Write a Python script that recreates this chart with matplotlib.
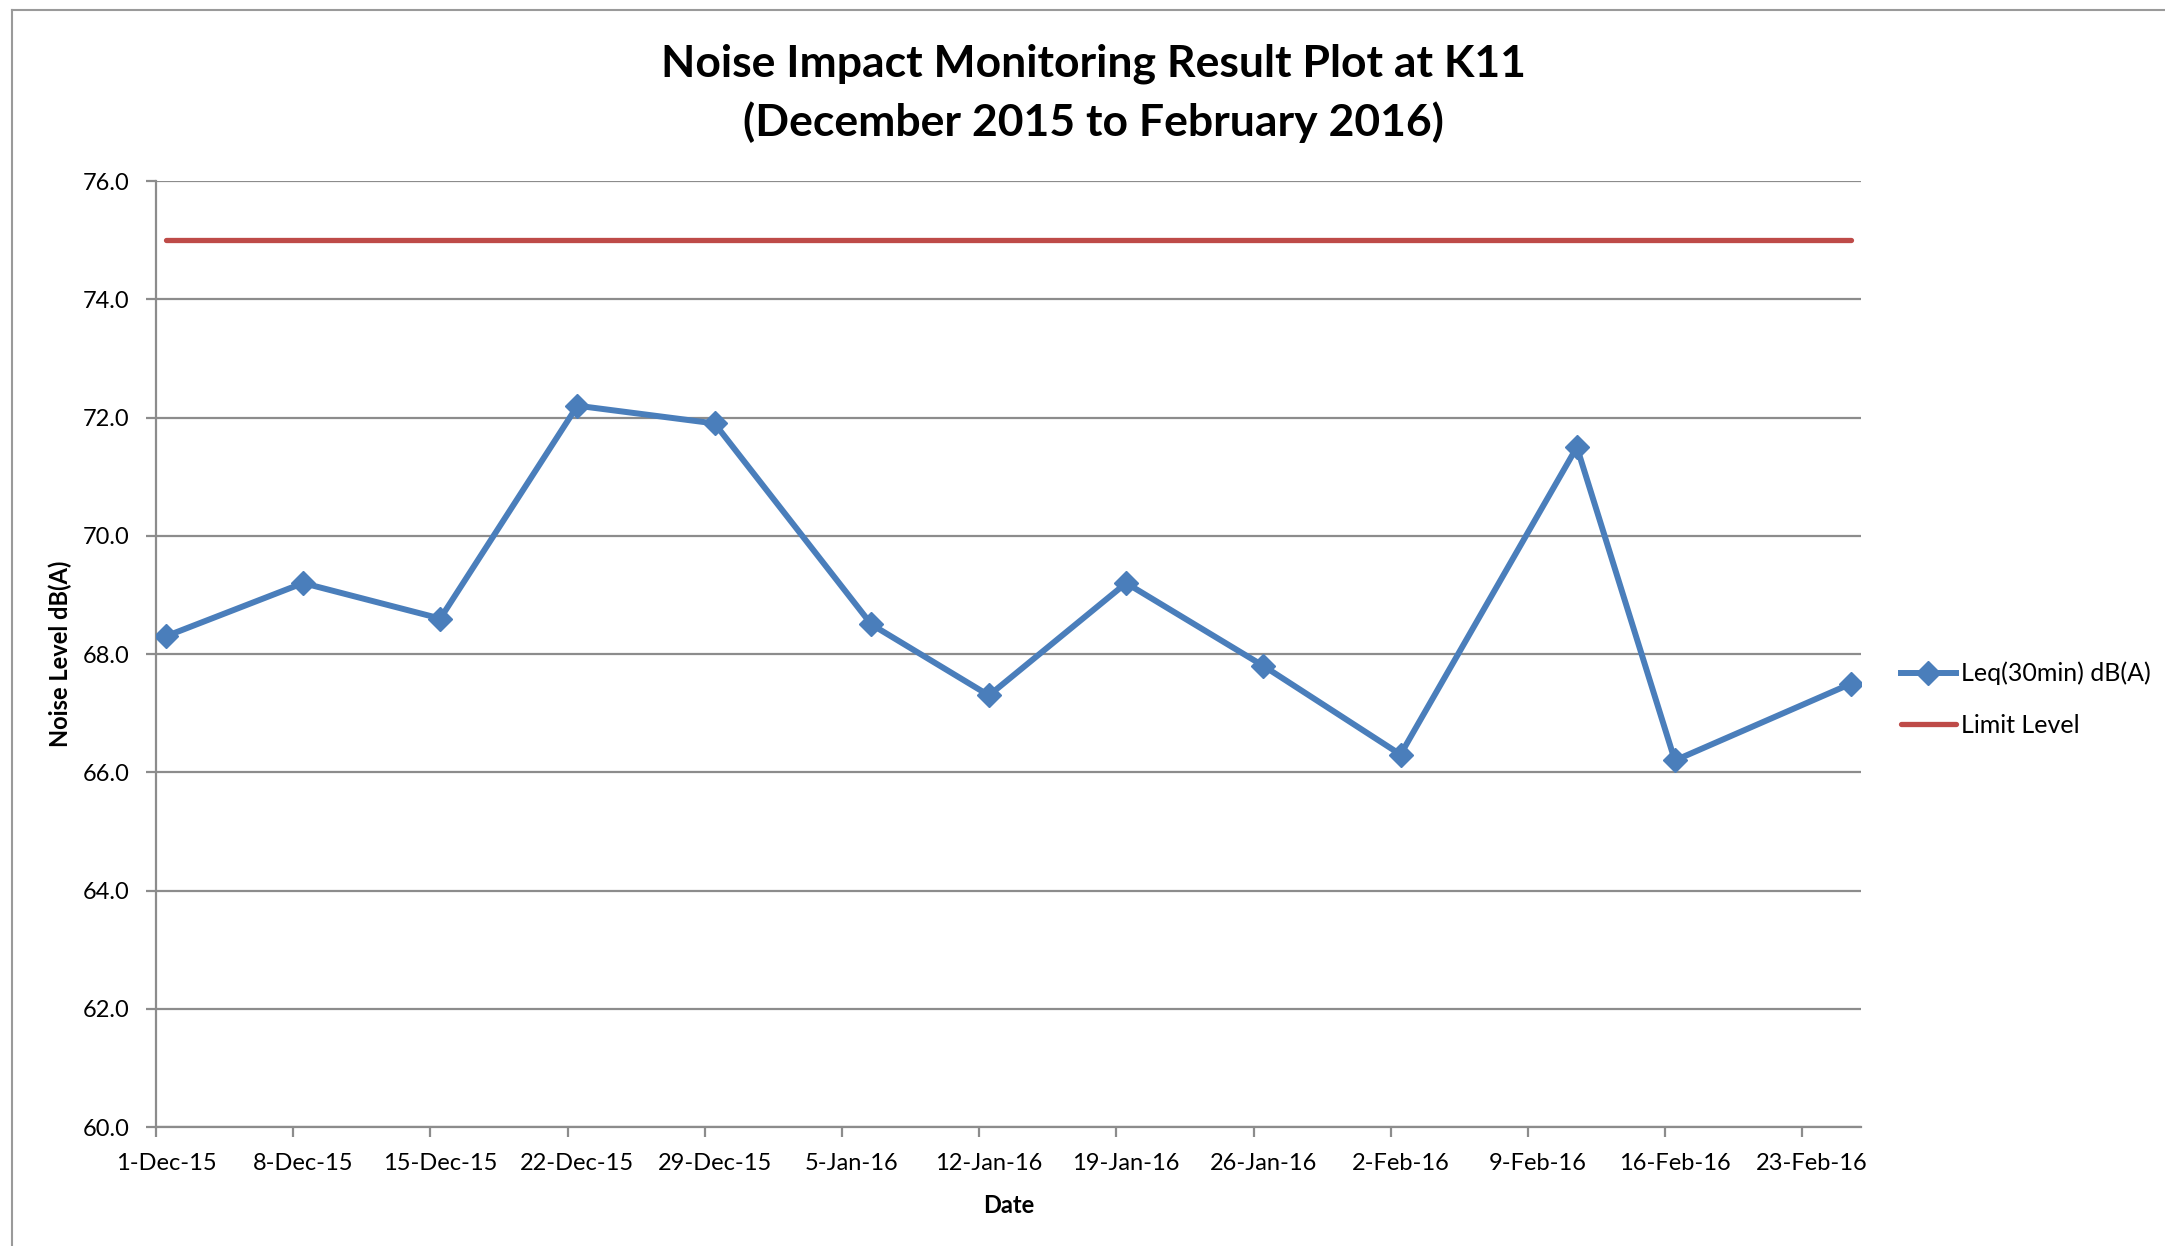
import pandas as pd
import matplotlib
matplotlib.use('Agg')
import matplotlib.pyplot as plt
import matplotlib.dates as mdates
from matplotlib.lines import Line2D

plt.rcParams['font.family'] = ['Lato', 'DejaVu Sans']

# Monitoring results at K11
dates = ['2015-12-01', '2015-12-08', '2015-12-15', '2015-12-22', '2015-12-29',
         '2016-01-06', '2016-01-12', '2016-01-19', '2016-01-26', '2016-02-02',
         '2016-02-11', '2016-02-16', '2016-02-25']
leq = [68.3, 69.2, 68.6, 72.2, 71.9, 68.5, 67.3, 69.2, 67.8, 66.3, 71.5, 66.2, 67.5]
limit = [75.0] * len(dates)

tick_dates = pd.date_range('2015-12-01', '2016-02-23', freq='7D')
y_ticks = [60.0, 62.0, 64.0, 66.0, 68.0, 70.0, 72.0, 74.0, 76.0]

blue = '#4A7EBB'
red = '#BE4B48'
grid_grey = '#8C8C8C'

# each reading (and each date label) sits in the middle of its day
half_day = pd.Timedelta(hours=12)
x = pd.to_datetime(dates) + half_day

fig = plt.figure(figsize=(21.65, 12.46), dpi=100)
ax = fig.add_axes([0.0721, 0.0955, 0.7875, 0.7592])

ax.plot(x, leq, color=blue, lw=4.3, marker='D', ms=12.5, label='Leq(30min) dB(A)',
        solid_joinstyle='round', zorder=3)
ax.plot(x, limit, color=red, lw=3.8, solid_capstyle='round', label='Limit Level', zorder=3)

ax.set_ylim(60, 76)
ax.set_yticks(y_ticks)
ax.set_yticklabels([f'{v:.1f}' for v in y_ticks])
ax.set_xlim(pd.Timestamp('2015-12-01'), pd.Timestamp('2016-02-26'))

# tick marks at midnight, labels centred on the day
ax.set_xticks(tick_dates)
ax.xaxis.set_major_formatter(plt.NullFormatter())
ax.set_xticks(tick_dates + half_day, minor=True)
ax.xaxis.set_minor_formatter(mdates.DateFormatter('%-d-%b-%y'))
ax.tick_params(axis='x', which='minor', length=0, labelsize=17, pad=19)

ax.grid(axis='y', color=grid_grey, lw=1.6)
ax.set_axisbelow(True)
for side in ['top', 'right']:
    ax.spines[side].set_visible(False)
for side in ['left', 'bottom']:
    ax.spines[side].set_color(grid_grey)
    ax.spines[side].set_linewidth(1.6)
ax.tick_params(axis='both', which='major', direction='out', length=7, width=1.6,
               color=grid_grey, labelsize=17, pad=12)

ax.set_xlabel('Date', fontsize=17, fontweight='bold', labelpad=14)
ax.set_ylabel('Noise Level dB(A)', fontsize=17, fontweight='bold', labelpad=8)

fig.text(0.505, 0.949, 'Noise Impact Monitoring Result Plot at K11', ha='center', va='center',
         fontsize=32, fontweight='bold')
fig.text(0.505, 0.902, '(December 2015 to February 2016)', ha='center', va='center',
         fontsize=32, fontweight='bold')

ax.legend(loc='center left', bbox_to_anchor=(1.01, 0.452), frameon=False, fontsize=18,
          handlelength=2.2, handletextpad=0.2, labelspacing=1.15)

# chart border
fig.add_artist(Line2D([0.0055, 0.0055], [0.0, 0.992], color='#9A9A9A', lw=1.5))
fig.add_artist(Line2D([0.0055, 1.0], [0.992, 0.992], color='#9A9A9A', lw=1.5))

fig.savefig('out.png', dpi=100)
